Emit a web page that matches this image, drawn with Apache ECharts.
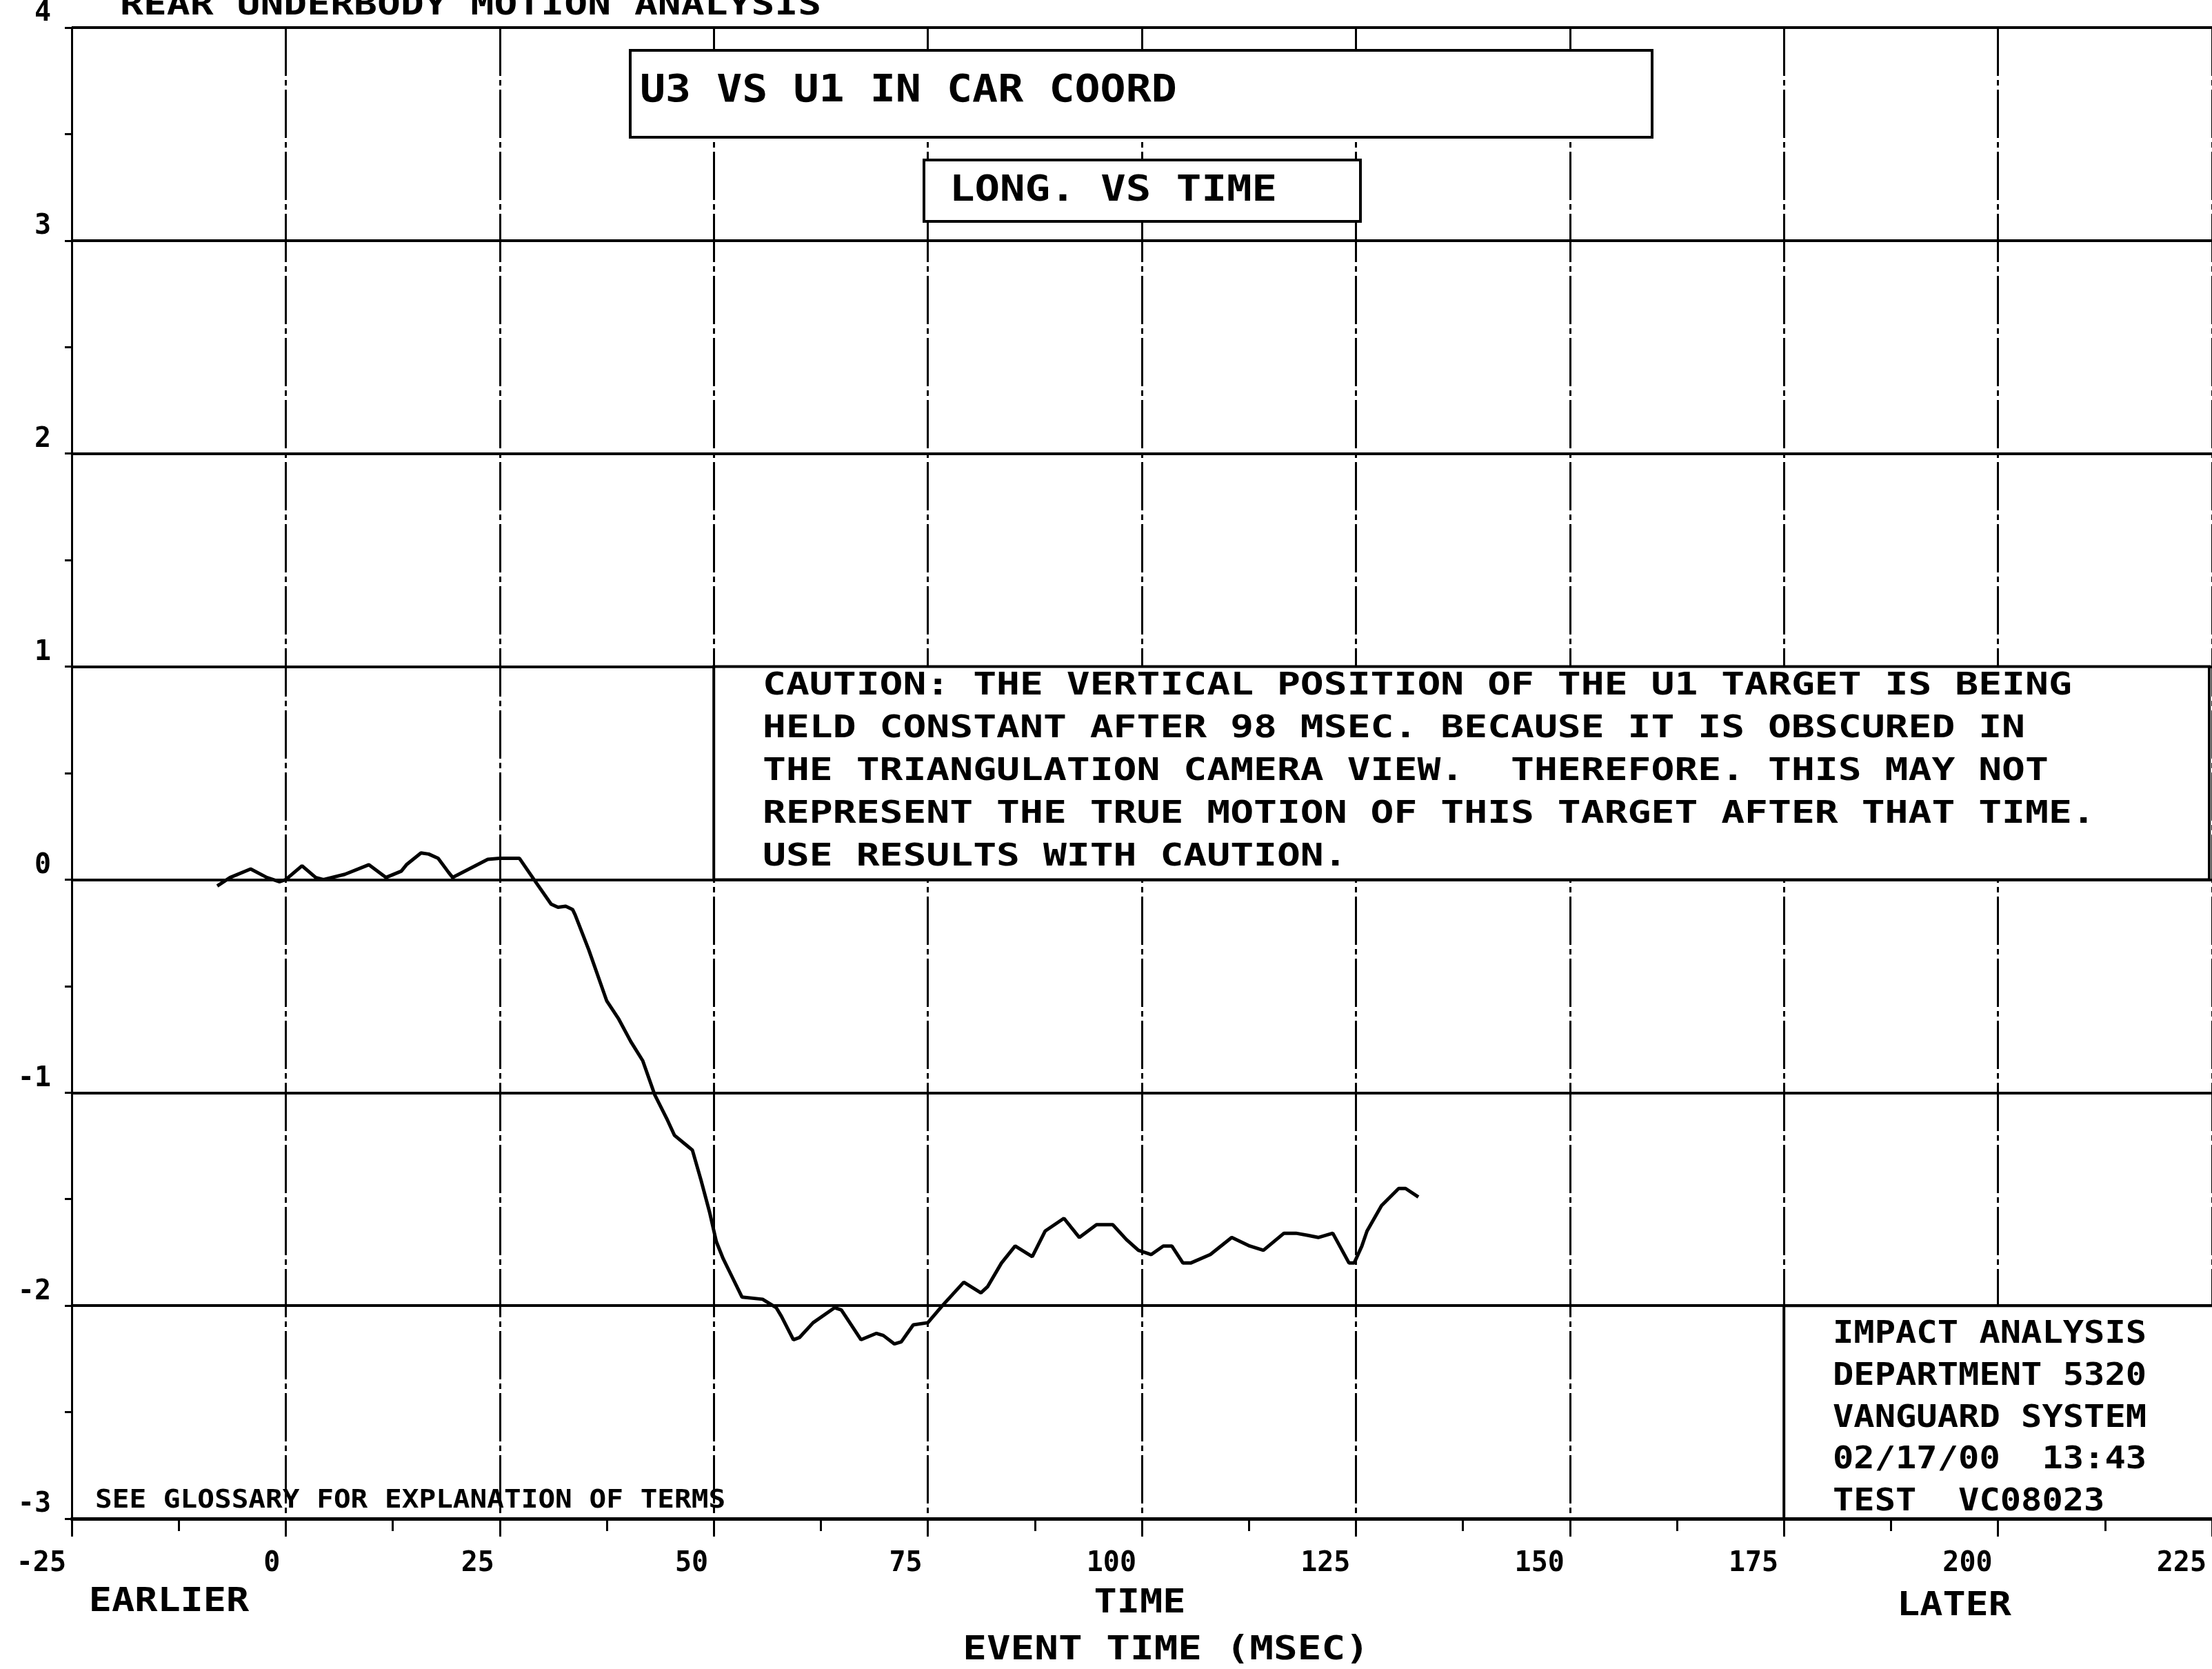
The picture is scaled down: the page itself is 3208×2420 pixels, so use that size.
<!DOCTYPE html>
<html>
<head>
<meta charset="utf-8">
<script src="https://cdn.jsdelivr.net/npm/echarts@6/dist/echarts.min.js"></script>
<style>html,body{margin:0;padding:0;background:#fff}#c{width:3208px;height:2420px}</style>
</head>
<body>
<div id="c"></div>
<script>
// ---- data ----
const timeMs = [-8.0,-6.5,-4.1,-2.2,-0.7,0.0,1.9,3.5,4.4,6.9,9.7,11.7,13.5,14.1,15.8,16.7,17.8,19.0,19.5,23.6,25.0,27.3,29.0,31.0,31.8,32.7,33.5,33.8,35.4,37.5,38.9,40.3,41.7,43.1,44.6,45.4,46.9,47.5,48.5,49.5,50.3,51.1,52.2,53.3,55.7,57.3,57.9,59.3,60.0,61.6,64.1,64.9,67.2,69.0,69.8,71.1,71.9,73.3,75.0,76.7,79.2,81.2,82.0,83.6,85.2,87.2,88.7,90.9,92.7,94.7,96.6,98.2,99.6,101.1,102.5,103.5,104.8,105.7,108.0,110.5,112.6,114.2,116.6,118.0,119.4,120.6,122.3,124.2,124.8,125.7,126.3,128.0,130.0,130.8,132.3];
const longDisp = [-0.03,0.01,0.05,0.01,-0.01,0.0,0.065,0.01,0.0,0.025,0.07,0.01,0.04,0.07,0.125,0.12,0.10,0.035,0.01,0.095,0.10,0.10,0.0,-0.115,-0.13,-0.125,-0.14,-0.165,-0.33,-0.57,-0.655,-0.76,-0.85,-1.01,-1.13,-1.20,-1.25,-1.27,-1.41,-1.56,-1.70,-1.78,-1.87,-1.96,-1.97,-2.01,-2.05,-2.16,-2.15,-2.08,-2.01,-2.02,-2.16,-2.13,-2.14,-2.18,-2.17,-2.09,-2.08,-2.00,-1.89,-1.94,-1.91,-1.80,-1.72,-1.77,-1.65,-1.59,-1.68,-1.62,-1.62,-1.69,-1.74,-1.76,-1.72,-1.72,-1.80,-1.80,-1.76,-1.68,-1.72,-1.74,-1.66,-1.66,-1.67,-1.68,-1.66,-1.80,-1.80,-1.72,-1.65,-1.53,-1.45,-1.45,-1.49];
const xRange = [-25, 225, 25];
const yRange = [-3, 4, 1];

const pageTitle = 'REAR UNDERBODY MOTION ANALYSIS';
const boxTitle1 = 'U3 VS U1 IN CAR COORD';
const boxTitle2 = 'LONG. VS TIME';
const cautionLines = [
  'CAUTION: THE VERTICAL POSITION OF THE U1 TARGET IS BEING',
  'HELD CONSTANT AFTER 98 MSEC. BECAUSE IT IS OBSCURED IN',
  'THE TRIANGULATION CAMERA VIEW.  THEREFORE. THIS MAY NOT',
  'REPRESENT THE TRUE MOTION OF THIS TARGET AFTER THAT TIME.',
  'USE RESULTS WITH CAUTION.'
];
const infoLines = ['IMPACT ANALYSIS','DEPARTMENT 5320','VANGUARD SYSTEM','02/17/00  13:43','TEST  VC08023'];
const glossaryNote = 'SEE GLOSSARY FOR EXPLANATION OF TERMS';
const xSubLabels = ['EARLIER', 'TIME', 'LATER'];
const xAxisName = 'EVENT TIME (MSEC)';

// ---- chart ----
const FONT = '"DejaVu Sans Mono", "Liberation Mono", monospace';
const chart = echarts.init(document.getElementById('c'), null, {renderer: 'canvas'});
const pts = timeMs.map((t, i) => [t, longDisp[i]]);

function txt(x, y, text, size, sx, align, lh) {
  return {
    type: 'text', x: x, y: y, scaleX: sx, z: 110,
    style: {
      text: text, fill: '#000', font: 'bold ' + size + 'px ' + FONT,
      align: align || 'left', verticalAlign: lh ? 'top' : 'middle',
      lineHeight: lh || undefined
    }
  };
}
function box(x, y, w, h) {
  return { type: 'rect', z: 100, shape: {x: x, y: y, width: w, height: h},
    style: {fill: '#fff', stroke: '#000', lineWidth: 4} };
}

chart.setOption({
  animation: false,
  backgroundColor: '#fff',
  grid: {left: 104, top: 40, width: 3114, height: 2162, containLabel: false},
  xAxis: {
    type: 'value', min: xRange[0], max: xRange[1], interval: xRange[2],
    axisLine: {show: true, onZero: false, lineStyle: {color: '#000', width: 5}},
    axisTick: {show: true, length: 26, lineStyle: {color: '#000', width: 3}},
    minorTick: {show: true, splitNumber: 2, length: 18, lineStyle: {color: '#000', width: 3}},
    splitLine: {show: true, lineStyle: {color: '#000', width: 3, type: [70, 6, 8, 6]}},
    axisLabel: {
      color: '#000', fontFamily: FONT, fontWeight: 'bold', fontSize: 40, align: 'right',
      margin: 46, padding: [0, 8, 0, 0], showMaxLabel: true, showMinLabel: true
    }
  },
  yAxis: {
    type: 'value', min: yRange[0], max: yRange[1], interval: yRange[2],
    axisLine: {show: true, onZero: false, lineStyle: {color: '#000', width: 3}},
    axisTick: {show: true, length: 10, lineStyle: {color: '#000', width: 3}},
    minorTick: {show: true, splitNumber: 2, length: 10, lineStyle: {color: '#000', width: 3}},
    splitLine: {show: true, lineStyle: {color: '#000', width: 4}},
    axisLabel: {
      color: '#000', fontFamily: FONT, fontWeight: 'bold', fontSize: 40, verticalAlign: 'bottom',
      margin: 30, showMaxLabel: true, showMinLabel: true
    }
  },
  series: [{
    type: 'line', data: pts, showSymbol: false, smooth: false,
    lineStyle: {color: '#000', width: 5}, z: 5
  }]
});

// annotation boxes anchored to grid cells
const toPx = (x, y) => chart.convertToPixel({gridIndex: 0}, [x, y]);
const c1 = toPx(50, 1), c2 = toPx(50, 0);
const i1 = toPx(175, -2), i2 = toPx(225, -3);

chart.setOption({
  graphic: {elements: [
    txt(174, 10, pageTitle, 44, 1.28),
    box(914, 73, 1482, 126),
    txt(928, 133, boxTitle1, 55, 1.12),
    box(1340, 232, 633, 89),
    txt(1377, 278, boxTitle2, 51, 1.19),
    box(c1[0], c1[1], 3204 - c1[0], c2[1] - c1[1]),
    txt(1106, 965, cautionLines.join('\n'), 44, 1.28, 'left', 62),
    box(i1[0], i1[1], i2[0] + 20 - i1[0], i2[1] - i1[1]),
    txt(2658, 1905, infoLines.join('\n'), 45, 1.12, 'left', 60.8),
    txt(138, 2176, glossaryNote, 38, 1.08),
    txt(245, 2324, xSubLabels[0], 48, 1.15, 'center'),
    txt(1653, 2326, xSubLabels[1], 48, 1.15, 'center'),
    txt(2834, 2330, xSubLabels[2], 48, 1.15, 'center'),
    txt(1691, 2394, xAxisName, 48, 1.2, 'center')
  ]}
});
</script>
</body>
</html>
